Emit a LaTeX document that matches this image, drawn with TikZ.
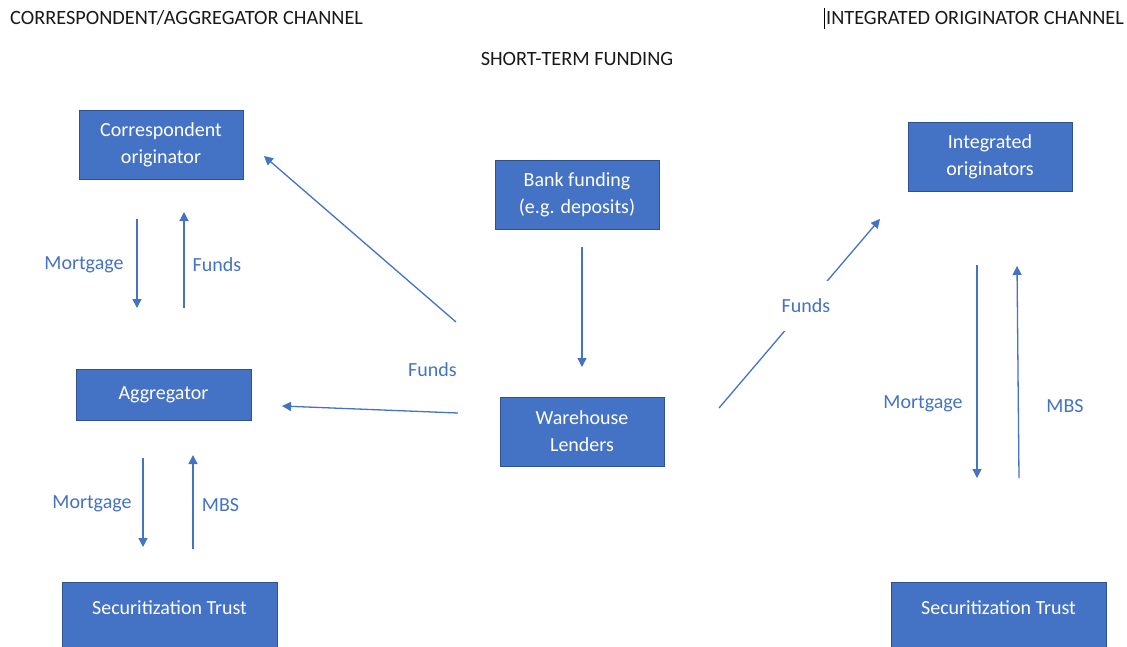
\documentclass[tikz,border=0pt]{standalone}
\usepackage{fontspec}
\setmainfont{Carlito}
\usetikzlibrary{arrows.meta}
\definecolor{officeblue}{HTML}{4472C4}
\definecolor{boxedge}{HTML}{2F528F}

\begin{document}
\begin{tikzpicture}[x=1pt, y=-1pt,
	fundbox/.style={rectangle, fill=officeblue, draw=boxedge, line width=0.8pt, text=white, align=center, minimum width=164pt, minimum height=69pt, font=\fontsize{20}{27}\selectfont},
	trustbox/.style={fundbox, anchor=north, minimum width=215pt, text height=22pt, text depth=40pt, inner ysep=10pt},
	flowlabel/.style={text=officeblue, font=\fontsize{20}{24}\selectfont, anchor=base, inner sep=0pt},
	flowarrow/.style={officeblue, line width=1.3pt, -{Triangle[width=9pt,length=9pt]}},
	heading/.style={inner sep=0pt, text height=13pt, text depth=0pt, font=\fontsize{20.3}{24}\selectfont, text=black!90}]
	\useasboundingbox (0,0) rectangle (1127,646);
	\clip (0,0) rectangle (1127,646);
	
	%headings
	\node (leftHead) at (10,18) [heading, anchor=west]{CORRESPONDENT/AGGREGATOR CHANNEL};
	\node (rightHead) at (1124,18) [heading, anchor=east]{INTEGRATED ORIGINATOR CHANNEL};
	\node (midHead) at (577,59) [heading]{SHORT-TERM FUNDING};
	\draw[black, line width=1pt] ([xshift=-1pt, yshift=10pt]rightHead.west) -- ([xshift=-1pt, yshift=-11pt]rightHead.west);
	
	%boxes
	\node (corr) at (161,144.5) [fundbox]{Correspondent\\originator};
	\node (bank) at (577,194.5) [fundbox]{Bank funding\\(e.g. deposits)};
	\node (integ) at (990,157) [fundbox]{Integrated\\originators};
	\node (aggr) at (163.5,394.5) [fundbox, minimum width=175pt, minimum height=51pt]{Aggregator};
	\node (whouse) at (582,431.5) [fundbox]{Warehouse\\Lenders};
	\node (trustL) at (169.5,582) [trustbox]{Securitization Trust};
	\node (trustR) at (998.5,582) [trustbox]{Securitization Trust};
	
	%arrow ends
	\coordinate (mtgTopA) at (137,219);
	\coordinate (mtgTopB) at (137,308);
	\coordinate (fundTopA) at (184,308);
	\coordinate (fundTopB) at (184,212);
	\coordinate (mtgLowA) at (143,458);
	\coordinate (mtgLowB) at (143,547);
	\coordinate (mbsLowA) at (193,549);
	\coordinate (mbsLowB) at (193,455);
	\coordinate (bankOut) at (582,247);
	\coordinate (whouseIn) at (582,367);
	\coordinate (whAggA) at (458,413);
	\coordinate (whAggB) at (282,406);
	\coordinate (whCorrA) at (456,322);
	\coordinate (whCorrB) at (264,156);
	\coordinate (whIntA) at (719,408);
	\coordinate (whIntB) at (880,219);
	\coordinate (mtgRA) at (977,265);
	\coordinate (mtgRB) at (977,478);
	\coordinate (mbsRA) at (1019,478);
	\coordinate (mbsRB) at (1017,266);
	
	%arrows
	\draw[flowarrow] (mtgTopA) -- (mtgTopB);
	\draw[flowarrow] (fundTopA) -- (fundTopB);
	\draw[flowarrow] (mtgLowA) -- (mtgLowB);
	\draw[flowarrow] (mbsLowA) -- (mbsLowB);
	\draw[flowarrow] (bankOut) -- (whouseIn);
	\draw[flowarrow] (whAggA) -- (whAggB);
	\draw[flowarrow] (whCorrA) -- (whCorrB);
	\draw[flowarrow] (whIntA) -- node (fundsR) [pos=0.54, flowlabel, anchor=center, fill=white, inner xsep=3pt, minimum height=50pt]{Funds} (whIntB);
	\draw[flowarrow] (mtgRA) -- (mtgRB);
	\draw[flowarrow] (mbsRA) -- (mbsRB);
	
	%labels
	\node (mtgTop) at (84,269) [flowlabel]{Mortgage};
	\node (fundTop) at (217,271) [flowlabel]{Funds};
	\node (mtgLow) at (92,508) [flowlabel]{Mortgage};
	\node (mbsLow) at (220.5,511) [flowlabel]{MBS};
	\node (fundsC) at (432.5,376) [flowlabel]{Funds};
	\node (mtgR) at (923,408) [flowlabel]{Mortgage};
	\node (mbsR) at (1065,412) [flowlabel]{MBS};
	
\end{tikzpicture}
\end{document}
